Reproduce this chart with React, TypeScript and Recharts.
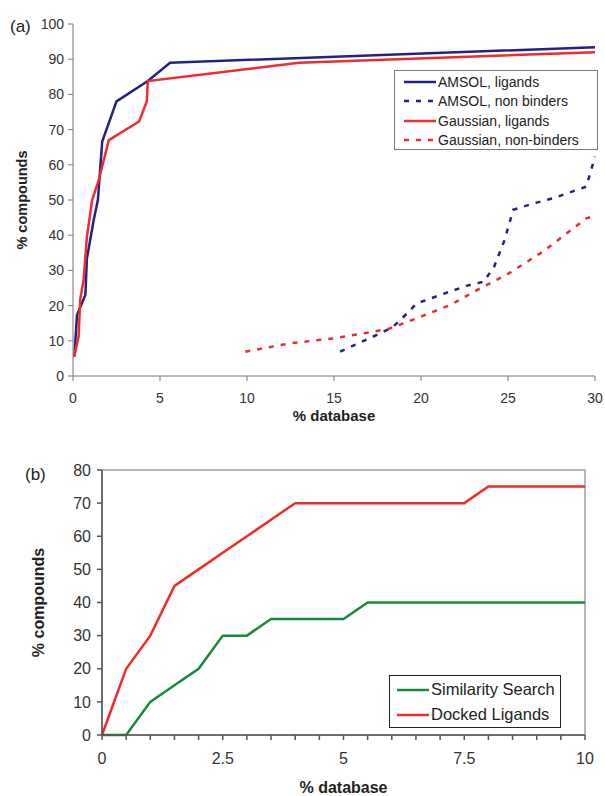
import React from 'react';
import { LineChart, Line, XAxis, YAxis, Legend, ReferenceArea } from 'recharts';

const FONT = '"Liberation Sans", Arial, Helvetica, sans-serif';

// panel (a): % compounds vs % database
const amsolLigandsX = [0.08, 0.23, 0.71, 0.8, 1.19, 1.43, 1.68, 2.5, 4.3, 5.58, 30];
const amsolLigandsY = [5.5, 17.3, 23, 33.4, 44.3, 50, 66.6, 78, 83.8, 89, 93.4];

const amsolNonBindersX = [15.35, 17.65, 18.4, 19.2, 19.75, 21.1, 22.6, 23.6, 24.2, 24.8, 25.3, 26.45, 27.6, 29.5, 30];
const amsolNonBindersY = [6.9, 12.1, 14, 17.8, 20.6, 23, 25.6, 26.8, 31, 38.6, 47.2, 49, 50.5, 53.8, 62.3];

const gaussLigandsX = [0.07, 0.32, 0.42, 0.61, 0.8, 1.1, 1.48, 2.06, 3.8, 4.24, 4.3, 13, 30];
const gaussLigandsY = [5.5, 11.2, 22, 27.3, 39.6, 50, 55.7, 67, 72.3, 78, 83.8, 89, 92];

const gaussNonBindersX = [9.9, 12.5, 15, 17.3, 18.2, 19.75, 21.7, 23.4, 24.9, 27, 29.5, 30];
const gaussNonBindersY = [6.9, 9.3, 10.7, 12.6, 13.5, 16.4, 20.2, 24.9, 28.7, 35.3, 44.8, 45.5];

const aXTicks = [0, 5, 10, 15, 20, 25, 30];
const aYTicks = [0, 10, 20, 30, 40, 50, 60, 70, 80, 90, 100];
const aLegendOrder = ['AMSOL, ligands', 'AMSOL, non binders', 'Gaussian, ligands', 'Gaussian, non-binders'];

// panel (b)
const bX = [0, 0.5, 1, 1.5, 2, 2.5, 3, 3.5, 4, 5, 5.5, 7.5, 8, 10];
const similarityY = [0, 0, 10, 15, 20, 30, 30, 35, 35, 35, 40, 40, 40, 40];
const dockedY = [0, 20, 30, 45, 50, 55, 60, 65, 70, 70, 70, 70, 75, 75];

const bXTicks = [0, 0.5, 1, 1.5, 2, 2.5, 3, 3.5, 4, 4.5, 5, 5.5, 6, 6.5, 7, 7.5, 8, 8.5, 9, 9.5, 10];
const bXLabels = [0, 2.5, 5, 7.5, 10];
const bYTicks = [0, 10, 20, 30, 40, 50, 60, 70, 80];
const bLegendOrder = ['Similarity Search', 'Docked Ligands'];

const NAVY = '#23237f';
const RED = '#f02b2e';
const GREEN = '#178a3e';

const toPoints = (xs: number[], ys: number[]) => xs.map((x, i) => ({ x, y: ys[i] }));

const LegendBox = ({ payload, order, fontSize, rowHeight, border, padLeft, padTop, lineW }: any) => {
  const items = [...(payload || [])].sort((a: any, b: any) => order.indexOf(a.value) - order.indexOf(b.value));
  return (
    <div
      style={{
        border,
        background: '#fff',
        boxSizing: 'border-box',
        width: '100%',
        height: '100%',
        paddingLeft: padLeft,
        paddingTop: padTop,
        fontFamily: FONT,
        fontSize,
        color: '#222',
      }}
    >
      {items.map((item: any) => (
        <div key={item.value} style={{ display: 'flex', alignItems: 'center', height: rowHeight, whiteSpace: 'nowrap' }}>
          <svg width={lineW} height={6} style={{ flex: 'none' }}>
            <line
              x1={0}
              y1={3}
              x2={lineW}
              y2={3}
              stroke={item.color}
              strokeWidth={2.5}
              strokeDasharray={item.payload?.strokeDasharray}
            />
          </svg>
          <span style={{ marginLeft: 2 }}>{item.value}</span>
        </div>
      ))}
    </div>
  );
};

const BTick = (props: any) => {
  const { x, y, payload } = props;
  if (!bXLabels.includes(payload.value)) return <g />;
  return (
    <text x={x} y={y} dy="0.71em" textAnchor="middle" fontSize={16} fill="#333" fontFamily={FONT}>
      {payload.value}
    </text>
  );
};

export default function App() {
  const labelA = { fontFamily: FONT, fontSize: 14, fill: '#333' };
  return (
    <div style={{ position: 'absolute', left: 0, top: 0, width: 605, height: 796, background: '#fff', fontFamily: FONT }}>
      <div style={{ position: 'absolute', left: 10, top: 17, fontSize: 17, color: '#222' }}>(a)</div>
      <div style={{ position: 'absolute', left: 25, top: 465, fontSize: 17, color: '#222' }}>(b)</div>

      <div style={{ position: 'absolute', left: 0, top: 0 }}>
        <LineChart width={605} height={430} margin={{ top: 24, right: 10, bottom: 24, left: 5 }}>
          <XAxis
            type="number"
            dataKey="x"
            domain={[0, 30]}
            ticks={aXTicks}
            height={30}
            stroke="#777"
            tickSize={5}
            tickMargin={12}
            tick={labelA}
            label={{
              value: '% database',
              position: 'insideBottom',
              offset: -15,
              style: { fontFamily: FONT, fontSize: 15, fontWeight: 'bold', fill: '#222' },
            }}
          />
          <YAxis
            type="number"
            domain={[0, 100]}
            ticks={aYTicks}
            width={68}
            stroke="#777"
            tickSize={5}
            tickMargin={4}
            tick={labelA}
            label={{
              value: '% compounds',
              angle: -90,
              position: 'insideLeft',
              offset: 17,
              style: { textAnchor: 'middle', fontFamily: FONT, fontSize: 14.5, fontWeight: 'bold', fill: '#222' },
            }}
          />
          <Legend
            layout="vertical"
            align="center"
            verticalAlign="middle"
            wrapperStyle={{ left: 394, top: 70, width: 204, height: 80 }}
            content={(p: any) => (
              <LegendBox {...p} order={aLegendOrder} fontSize={14} rowHeight={19.5} border="1px solid #777" padLeft={9} padTop={1} lineW={32} />
            )}
          />
          <Line
            data={toPoints(amsolLigandsX, amsolLigandsY)}
            dataKey="y"
            name="AMSOL, ligands"
            type="linear"
            stroke={NAVY}
            strokeWidth={2.5}
            dot={false}
            isAnimationActive={false}
          />
          <Line
            data={toPoints(amsolNonBindersX, amsolNonBindersY)}
            dataKey="y"
            name="AMSOL, non binders"
            type="linear"
            stroke={NAVY}
            strokeWidth={2.5}
            strokeDasharray="5 7"
            dot={false}
            isAnimationActive={false}
          />
          <Line
            data={toPoints(gaussLigandsX, gaussLigandsY)}
            dataKey="y"
            name="Gaussian, ligands"
            type="linear"
            stroke={RED}
            strokeWidth={2.5}
            dot={false}
            isAnimationActive={false}
          />
          <Line
            data={toPoints(gaussNonBindersX, gaussNonBindersY)}
            dataKey="y"
            name="Gaussian, non-binders"
            type="linear"
            stroke={RED}
            strokeWidth={2.5}
            strokeDasharray="5 7"
            dot={false}
            isAnimationActive={false}
          />
        </LineChart>
      </div>

      <div style={{ position: 'absolute', left: 0, top: 430 }}>
        <LineChart width={605} height={366} margin={{ top: 40, right: 20, bottom: 31, left: 20 }}>
          <ReferenceArea x1={0} x2={10} y1={0} y2={80} fill="none" stroke="#a0a0a0" strokeWidth={1.5} ifOverflow="visible" />
          <XAxis
            type="number"
            dataKey="x"
            domain={[0, 10]}
            ticks={bXTicks}
            interval={0}
            height={30}
            stroke="#555"
            strokeWidth={1.5}
            tickSize={5}
            tickMargin={13}
            tick={<BTick />}
            label={{
              value: '% database',
              position: 'insideBottom',
              offset: -28,
              style: { fontFamily: FONT, fontSize: 16, fontWeight: 'bold', fill: '#222' },
            }}
          />
          <YAxis
            type="number"
            domain={[0, 80]}
            ticks={bYTicks}
            width={82}
            stroke="#555"
            strokeWidth={1.5}
            tickSize={5}
            tickMargin={6}
            tick={{ fontFamily: FONT, fontSize: 16, fill: '#333' }}
            label={{
              value: '% compounds',
              angle: -90,
              position: 'insideLeft',
              offset: 18,
              style: { textAnchor: 'middle', fontFamily: FONT, fontSize: 16, fontWeight: 'bold', fill: '#222' },
            }}
          />
          <Legend
            layout="vertical"
            align="center"
            verticalAlign="middle"
            wrapperStyle={{ left: 389, top: 245, width: 172, height: 53 }}
            content={(p: any) => (
              <LegendBox {...p} order={bLegendOrder} fontSize={16.5} rowHeight={25} border="1.5px solid #222" padLeft={7} padTop={1} lineW={32} />
            )}
          />
          <Line
            data={toPoints(bX, similarityY)}
            dataKey="y"
            name="Similarity Search"
            type="linear"
            stroke={GREEN}
            strokeWidth={2.5}
            dot={false}
            isAnimationActive={false}
          />
          <Line
            data={toPoints(bX, dockedY)}
            dataKey="y"
            name="Docked Ligands"
            type="linear"
            stroke={RED}
            strokeWidth={2.5}
            dot={false}
            isAnimationActive={false}
          />
        </LineChart>
      </div>
    </div>
  );
}
